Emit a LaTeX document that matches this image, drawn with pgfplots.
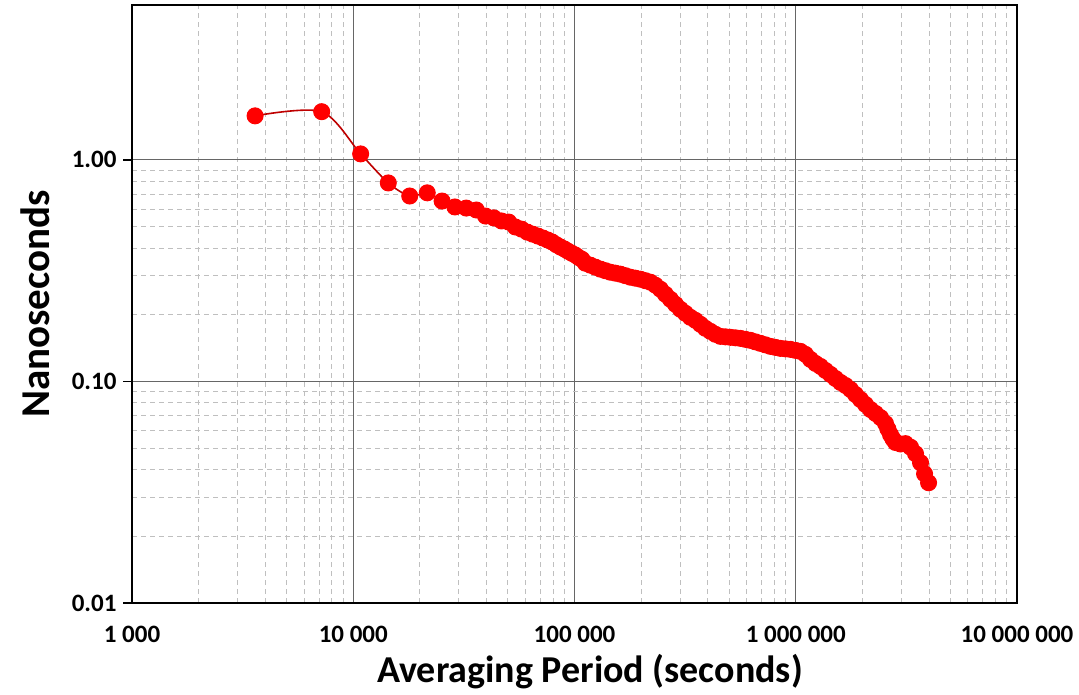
\documentclass[border=0pt]{standalone}
\usepackage{fontspec}
\setmainfont{Carlito}
\usepackage{pgfplots}
\pgfplotsset{compat=1.18}
\definecolor{ptred}{RGB}{255,0,0}
\definecolor{lnred}{RGB}{190,0,0}

\pgfplotstableread{
x y
3600 1.58
7200 1.65
10800 1.064
14400 0.787
18000 0.687
21600 0.71
25200 0.652
28800 0.613
32400 0.606
36000 0.594
39600 0.558
43200 0.547
46800 0.530
50400 0.524
54000 0.498
57600 0.487
61200 0.472
64800 0.462
68400 0.453
72000 0.444
75600 0.435
79200 0.426
82800 0.414
86400 0.404
90000 0.396
93600 0.387
97200 0.379
100800 0.372
104400 0.363
108000 0.356
111900 0.3418
117900 0.3349
124200 0.3280
130900 0.3213
137800 0.3162
145200 0.3112
152900 0.3082
161200 0.3049
169700 0.3003
178800 0.2955
188400 0.2925
198500 0.2894
209000 0.2850
220200 0.2805
232100 0.2719
244400 0.2608
257400 0.2475
271200 0.2350
285700 0.2231
301000 0.2118
317000 0.2031
333900 0.1948
351800 0.1888
370700 0.1811
390500 0.1737
411400 0.1683
433400 0.1632
456400 0.1598
480900 0.1590
506600 0.1582
533700 0.1574
562200 0.1565
592200 0.1549
623800 0.1533
657200 0.1509
692100 0.1486
729200 0.1463
768300 0.1440
809300 0.1425
852600 0.1410
898300 0.1403
946200 0.1396
996800 0.1381
1050000 0.1367
1106000 0.1325
1165000 0.1258
1228000 0.1206
1293000 0.1169
1362000 0.1121
1435000 0.1076
1512000 0.1031
1593000 0.0990
1678000 0.0959
1768000 0.0920
1862000 0.0873
1962000 0.0829
2066000 0.0787
2177000 0.0747
2294000 0.0717
2416000 0.0687
2545000 0.0646
2610000 0.0610
2681000 0.0575
2750000 0.0550
2825000 0.0530
2976000 0.0522
3134000 0.0524
3303000 0.0505
3478000 0.0472
3664000 0.0430
3821000 0.0383
3985000 0.0349
}\adevdata

\begin{document}
\begin{tikzpicture}
\useasboundingbox (-132pt,-91pt) rectangle (947pt,603pt);
\begin{axis}[
  at={(0pt,0pt)}, anchor=south west,
  scale only axis, width=885pt, height=598pt,
  xmode=log, ymode=log,
  xmin=1000, xmax=1e7, ymin=0.01, ymax=5,
  xtick={1e3,1e4,1e5,1e6,1e7},
  xticklabels={\mbox{1 000},\mbox{10 000},\mbox{100 000},\mbox{1 000 000},\mbox{10 000 000}},
  ytick={0.01,0.1,1},
  yticklabels={0.01,0.10,1.00},
  ytick pos=left, xtick pos=bottom,
  grid=both,
  major grid style={black!60, line width=1.2pt},
  minor grid style={black!25, line width=0.9pt, dash pattern=on 5pt off 4pt},
  axis line style={black, line width=1.6pt},
  tick align=outside,
  major tick length=9pt, minor tick length=0pt,
  xtick style={draw=none},
  ytick style={black, line width=1.4pt},
  every tick label/.append style={font=\fontsize{25}{26}\selectfont\bfseries},
  xticklabel style={yshift=-11pt},
  yticklabel style={xshift=-3pt},
  xlabel={Averaging Period (seconds)},
  ylabel={Nanoseconds},
  xlabel style={at={(axis description cs:0.5175,-0.1154)}, anchor=center, font=\fontsize{38}{40}\selectfont\bfseries},
  ylabel style={at={(axis description cs:-0.1096,0.5)}, anchor=center, font=\fontsize{41}{44}\selectfont\bfseries},
]
\addplot[lnred, line width=1.6pt, smooth,
  mark=*, mark size=8pt,
  mark options={fill=ptred, draw=ptred, line width=1pt, solid}]
  table[x=x, y=y] {\adevdata};
\end{axis}
\end{tikzpicture}
\end{document}
